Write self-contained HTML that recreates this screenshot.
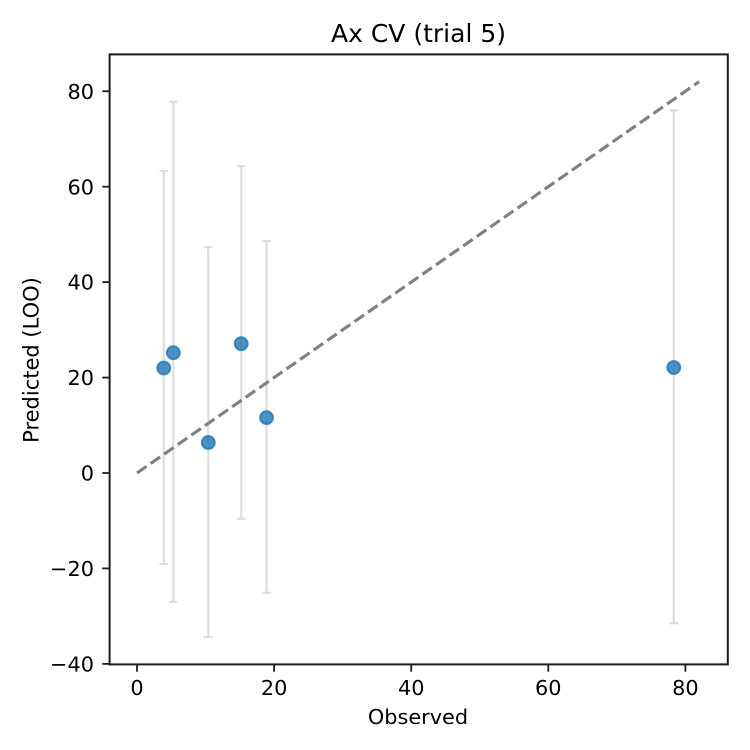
<!DOCTYPE html>
<html>
<head>
<meta charset="utf-8">
<style>
html,body{margin:0;padding:0;background:#fff;}
svg{display:block;}
text{font-family:"DejaVu Sans","Liberation Sans",sans-serif;fill:#000;}
</style>
</head>
<body>
<svg id="chart" width="750" height="750" viewBox="0 0 750 750" xmlns="http://www.w3.org/2000/svg">
  <rect width="750" height="750" fill="#fff"/>
  <text x="418.5" y="42" font-size="25" text-anchor="middle">Ax CV (trial 5)</text>
  <text x="418" y="724" font-size="20.83" text-anchor="middle">Observed</text>
  <text transform="translate(38.5 360) rotate(-90)" font-size="21" text-anchor="middle">Predicted (LOO)</text>
  <g id="layer"></g>
</svg>
<script>
const observed = [3.9, 5.3, 10.4, 15.2, 18.9, 78.3];
const predicted = [22.0, 25.2, 6.4, 27.1, 11.6, 22.1];
const lower = [-19.1, -27.0, -34.4, -9.6, -25.1, -31.5];
const upper = [63.3, 77.8, 47.3, 64.3, 48.6, 76.0];
const diagonal = [0, 82];
const xTicks = [0, 20, 40, 60, 80];
const yTicks = [-40, -20, 0, 20, 40, 60, 80];

const X = v => 137 + v * 6.855;
const Y = v => 473 - v * 4.772;
const box = {l: 109.6, r: 727.8, t: 54.4, b: 664.4};
const NS = 'http://www.w3.org/2000/svg';
const layer = document.getElementById('layer');
function mk(tag, attrs, parent) {
  const el = document.createElementNS(NS, tag);
  for (const k in attrs) el.setAttribute(k, attrs[k]);
  (parent || layer).appendChild(el);
  return el;
}
const fmt = v => (v < 0 ? '\u2212' + Math.abs(v) : String(v));

observed.forEach((x, i) => {
  const g = mk('g', {stroke: '#dcdcdc', 'stroke-width': 2.08, fill: 'none'});
  
  
  mk('line', {x1: X(x), x2: X(x), y1: Y(lower[i]), y2: Y(upper[i])}, g);
  mk('line', {x1: X(x) - 4.2, x2: X(x) + 4.2, y1: Y(lower[i]), y2: Y(lower[i])}, g);
  mk('line', {x1: X(x) - 4.2, x2: X(x) + 4.2, y1: Y(upper[i]), y2: Y(upper[i])}, g);
});

const diag = mk('line', {x1: X(diagonal[0]), y1: Y(diagonal[0]), x2: X(diagonal[1]), y2: Y(diagonal[1]), stroke: '#808080', 'stroke-width': 3.125, 'stroke-dasharray': '11.56 5', fill: 'none'});



observed.forEach((x, i) => {
  const c = mk('circle', {cx: X(x), cy: Y(predicted[i]), r: 6.4, fill: '#1f77b4', 'fill-opacity': 0.8, stroke: '#1f77b4', 'stroke-opacity': 0.8, 'stroke-width': 2.08});
  
  
});

const frame = mk('rect', {x: box.l, y: box.t, width: box.r - box.l, height: box.b - box.t, fill: 'none', stroke: '#1c1c1c', 'stroke-width': 2});



xTicks.forEach(v => {
  const t = mk('line', {x1: X(v), x2: X(v), y1: box.b, y2: box.b + 7.3, stroke: '#1c1c1c', 'stroke-width': 1.8});
  
  
  const l = mk('text', {x: X(v), y: 695, 'font-size': 20.83, 'text-anchor': 'middle'});
  
  
  l.textContent = fmt(v);
});
yTicks.forEach(v => {
  const t = mk('line', {x1: box.l - 7.3, x2: box.l, y1: Y(v), y2: Y(v), stroke: '#1c1c1c', 'stroke-width': 1.8});
  
  
  const l = mk('text', {x: 94, y: Y(v) + 7.6, 'font-size': 20.83, 'text-anchor': 'end'});
  
  
  l.textContent = fmt(v);
});
</script>
</body>
</html>
